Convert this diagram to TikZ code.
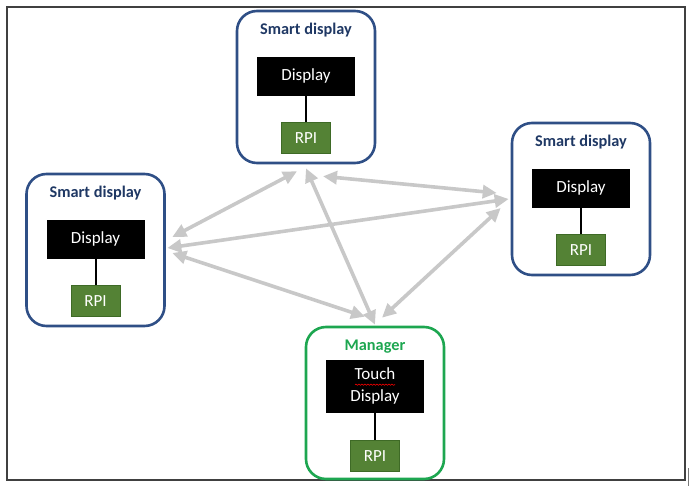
\documentclass[tikz,border=0pt]{standalone}
\usepackage{fontspec}
\setmainfont{Carlito}
\usetikzlibrary{positioning,calc,arrows.meta,decorations.pathmorphing}
\definecolor{navy}{HTML}{2F4F86}
\definecolor{navytxt}{HTML}{1F3864}
\definecolor{mgrgreen}{HTML}{1DA650}
\definecolor{rpigreen}{HTML}{548235}
\definecolor{rpiedge}{HTML}{3E6A26}
\definecolor{linkgray}{HTML}{C8C8C8}
\definecolor{framecol}{HTML}{404040}
\tikzset{
  unitbox/.style={draw=navy,line width=2.6pt,rounded corners=20pt,minimum width=138pt,minimum height=152pt,inner sep=0pt},
  unittitle/.style={font=\bfseries\fontsize{16.3}{19}\selectfont,text=navytxt},
  dispbox/.style={fill=black,text=white,minimum width=98pt,minimum height=39pt,inner sep=0pt,font=\fontsize{17}{20}\selectfont},
  rpibox/.style={fill=rpigreen,draw=rpiedge,line width=0.8pt,text=white,minimum width=49pt,minimum height=31pt,inner sep=0pt,font=\fontsize{17}{20}\selectfont},
  wire/.style={line width=2pt},
  link/.style={draw=linkgray,line width=3.6pt,{Triangle[length=14pt,width=13pt]}-{Triangle[length=14pt,width=13pt]}}
}

\begin{document}
\begin{tikzpicture}[x=1pt,y=-1pt]
  \useasboundingbox (0,0) rectangle (690,486);
  \draw[framecol,line width=1.5pt] (7,7) rectangle (685,480);
  \draw[framecol!70,line width=1pt] (688,468) -- (688,486);

  % smart displays
  \foreach \nm/\x/\y in {sdt/306/87, sdl/95.5/250, sdr/581/199} {
    \node[unitbox] (\nm) at (\x,\y) {};
    \node[unittitle] (\nm-title) at ($(\nm.north)+(0,20)$) {Smart display};
    \node[dispbox] (\nm-disp) at ($(\nm.north)+(0,66.5)$) {Display};
    \node[rpibox] (\nm-rpi) at ($(\nm.north)+(0,128)$) {RPI};
    \draw[wire] (\nm-disp) -- (\nm-rpi);
  }

  % manager
  \node[unitbox,draw=mgrgreen] (mgr) at (375,403) {};
  \node[unittitle,text=mgrgreen] (mgr-title) at ($(mgr.north)+(0,21)$) {Manager};
  \node[dispbox,minimum height=53pt,align=center,font=\fontsize{17}{22}\selectfont] (mgr-disp) at ($(mgr.north)+(0,60.5)$) {Touch\\Display};
  \node[rpibox] (mgr-rpi) at ($(mgr.north)+(0,130)$) {RPI};
  \draw[wire] (mgr-disp) -- (mgr-rpi);
  \draw[red,line width=0.6pt,decorate,decoration={snake,segment length=3pt,amplitude=0.6pt}]
    ($(mgr-disp.center)+(-20,-1.5)$) -- ($(mgr-disp.center)+(20,-1.5)$);

  % links
  \draw[link] ($(sdl.east)+(6.5,-13)$) -- ($(sdt.south)+(-9,7)$);
  \draw[link] ($(sdt.south)+(17,12)$) -- ($(sdr.west)+(-14,-6)$);
  \draw[link] ($(sdl.east)+(1.5,-2)$) -- ($(sdr.west)+(-2,0)$);
  \draw[link] ($(sdl.east)+(6.5,3)$) -- ($(mgr.north)+(-10,-9)$);
  \draw[link] ($(sdt.south)+(0,4)$) -- ($(mgr.north)+(0,-1)$);
  \draw[link] ($(sdr.west)+(-10,9)$) -- ($(mgr.north)+(7,-8)$);
\end{tikzpicture}
\end{document}
